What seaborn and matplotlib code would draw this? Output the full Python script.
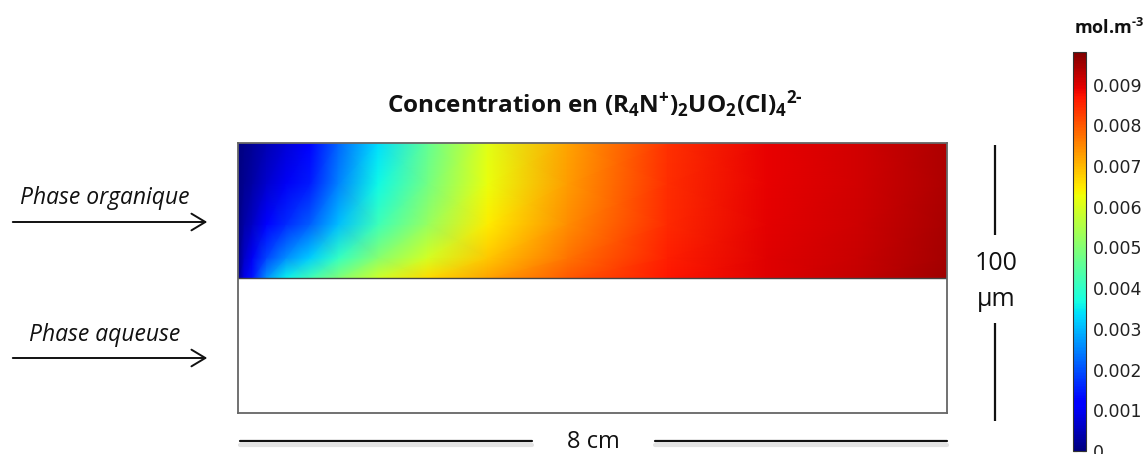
import numpy as np
import matplotlib
matplotlib.use("Agg")
import matplotlib.pyplot as plt
from matplotlib.patches import FancyArrowPatch
import seaborn as sns

# ---------------- data ----------------
# position along the channel (cm)
x_cm = [0, 0.07, 0.16, 0.32, 0.54, 0.81, 1.13, 1.58, 2.14, 2.82, 3.72, 4.85, 5.98, 7.0, 8.0]
# height (µm): organic phase occupies 50..100 µm, interface at 50 µm
y_um = [50, 57.5, 70, 85, 100]
# concentration (mol.m-3) along each height row
conc_y50 = [0, 0.0009, 0.0014, 0.00263, 0.00353, 0.0042, 0.00497, 0.00589, 0.00666, 0.00723, 0.00797, 0.00867, 0.00899, 0.0092, 0.0095]
conc_y57 = [0, 0.00063, 0.0010, 0.00189, 0.00259, 0.00318, 0.00403, 0.00503, 0.00596, 0.00685, 0.00771, 0.00858, 0.00896, 0.00917, 0.00947]
conc_y70 = [0, 0.00035, 0.00059, 0.00112, 0.00161, 0.00212, 0.00306, 0.00414, 0.00524, 0.00645, 0.00745, 0.00848, 0.00893, 0.00913, 0.00943]
conc_y85 = [0, 0.00018, 0.00034, 0.00066, 0.00103, 0.00149, 0.00248, 0.00361, 0.00481, 0.00621, 0.00729, 0.00843, 0.00891, 0.00911, 0.00941]
conc_y100 = [0, 0.0001, 0.00022, 0.00044, 0.00075, 0.00119, 0.0022, 0.00336, 0.0046, 0.0061, 0.00721, 0.0084, 0.0089, 0.0091, 0.0094]

c_min, c_max = 0.0, 0.0098
cbar_ticks = [0, 0.001, 0.002, 0.003, 0.004, 0.005, 0.006, 0.007, 0.008, 0.009]
cbar_ticklabels = ["0", "0.001", "0.002", "0.003", "0.004", "0.005", "0.006", "0.007", "0.008", "0.009"]

title_text = r"Concentration en (R$_4$N$^{\text{+}}$)$_2$UO$_2$(Cl)$_4$$^{2\text{-}}$"
unit_text = r"mol.m$^{\text{-}3}$"
phase_labels = ["Phase organique", "Phase aqueuse"]
height_label = ["100", "µm"]
length_label = "8 cm"

# ---------------- style ----------------
sns.set_theme(style="white")
plt.rcParams["font.family"] = ["Open Sans", "DejaVu Sans"]
plt.rcParams["mathtext.fontset"] = "custom"
plt.rcParams["mathtext.rm"] = "Open Sans:bold"
plt.rcParams["mathtext.it"] = "Open Sans:bold"
plt.rcParams["mathtext.bf"] = "Open Sans:bold"
plt.rcParams["mathtext.default"] = "rm"

W, H = 1148, 454
fig = plt.figure(figsize=(W / 100, H / 100), dpi=100)
fig.patch.set_facecolor("white")


def px_rect(x0, y0, x1, y1):
    return [x0 / W, 1 - y1 / H, (x1 - x0) / W, (y1 - y0) / H]


# overlay for annotations in pixel space
ov = fig.add_axes([0, 0, 1, 1])
ov.set_xlim(0, W)
ov.set_ylim(H, 0)
ov.axis("off")

# ---------------- domain ----------------
ax = fig.add_axes(px_rect(238, 143, 947, 413))
Z = np.array([conc_y50, conc_y57, conc_y70, conc_y85, conc_y100])
X, Y = np.meshgrid(x_cm, y_um)
cmap = matplotlib.colormaps["jet"]
mesh = ax.pcolormesh(X, Y, Z, shading="gouraud", cmap=cmap, vmin=c_min, vmax=c_max)
ax.set_xlim(0, 8)
ax.set_ylim(0, 100)
ax.axhline(50, color="#444444", lw=1.0)
ax.set_xticks([])
ax.set_yticks([])
ax.set_facecolor("white")
for s in ax.spines.values():
    s.set_color("#666666")
    s.set_linewidth(1.3)
    s.set_visible(True)

# title
ov.text(595, 104, title_text, ha="center", va="center", fontsize=17.5,
        fontweight="bold", color="#111111")

# ---------------- colorbar ----------------
cax = fig.add_axes(px_rect(1073, 52, 1086, 451))
cb = fig.colorbar(mesh, cax=cax, ticks=cbar_ticks)
cb.ax.set_yticklabels(cbar_ticklabels, fontsize=12.5, family="DejaVu Sans", color="#222222")
cb.ax.tick_params(axis="y", direction="in", length=3, width=0.8, left=True, right=True,
                  pad=5, colors="#333333", labelcolor="#222222")
cb.outline.set_edgecolor("#333333")
cb.outline.set_linewidth(0.8)
ov.text(1109, 28, unit_text, ha="center", va="center", fontsize=13,
        fontweight="bold", color="#111111")

# ---------------- phase labels and arrows ----------------
for label, ty, ay in zip(phase_labels, [198, 335], [222, 358]):
    ov.text(105, ty, label, ha="center", va="center", fontsize=16.5,
            style="italic", color="#111111")
    arr = FancyArrowPatch((10, ay), (210, ay), arrowstyle="->,head_length=10,head_width=6",
                          mutation_scale=1, lw=1.4, color="#111111")
    ov.add_patch(arr)

# ---------------- scale bars ----------------
# vertical (100 µm)
ov.plot([995, 995], [145, 235], color="#111111", lw=1.6, solid_capstyle="butt")
ov.plot([995, 995], [323, 421], color="#111111", lw=1.6, solid_capstyle="butt")
ov.text(996, 263, height_label[0], ha="center", va="center", fontsize=18, color="#111111")
ov.text(996, 299, height_label[1], ha="center", va="center", fontsize=18, color="#111111")
# horizontal (8 cm)
ov.plot([240, 532], [445, 445], color="#e3e3e3", lw=3)
ov.plot([655, 947], [445, 445], color="#e3e3e3", lw=3)
ov.plot([240, 532], [441, 441], color="#111111", lw=1.6)
ov.plot([655, 947], [441, 441], color="#111111", lw=1.6)
ov.text(593, 442, length_label, ha="center", va="center", fontsize=17, color="#111111")

fig.savefig("out.png", dpi=100, facecolor="white")
